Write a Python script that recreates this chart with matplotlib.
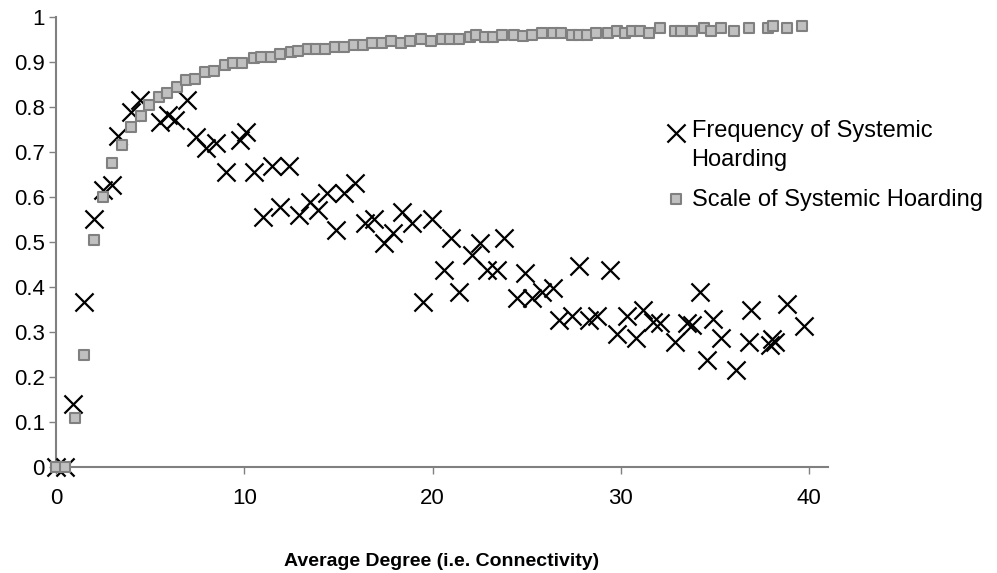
import matplotlib
matplotlib.use("Agg")
import matplotlib.pyplot as plt
from matplotlib.ticker import FuncFormatter

plt.rcParams['font.family'] = ['Liberation Sans', 'DejaVu Sans']

# Frequency of Systemic Hoarding (crosses)
freq_x = [0, 0.5, 0.9, 1.5, 2.0, 2.5, 2.95, 3.3, 4.0, 4.45, 5.5, 5.95, 6.3, 6.97,
          7.46, 7.96, 8.5, 9.05, 9.76, 10.1, 10.5, 11.0, 11.45, 11.9, 12.4, 12.9,
          13.5, 13.9, 14.4, 14.85, 15.3, 15.9, 16.4, 16.9, 17.4, 17.9, 18.35, 18.9,
          19.5, 19.95, 20.6, 21.0, 21.4, 22.1, 22.5, 22.9, 23.4, 23.8, 24.5, 24.9,
          25.3, 25.8, 26.4, 26.7, 27.4, 27.8, 28.3, 28.75, 29.4, 29.8, 30.3, 30.8,
          31.2, 31.7, 32.1, 32.9, 33.5, 33.8, 34.2, 34.6, 34.9, 35.3, 36.1, 36.8,
          36.9, 37.9, 38.05, 38.2, 38.8, 39.7]
freq_y = [0, 0, 0.14, 0.367, 0.551, 0.615, 0.627, 0.735, 0.79, 0.816, 0.767, 0.782,
          0.771, 0.816, 0.734, 0.708, 0.72, 0.656, 0.727, 0.745, 0.656, 0.556, 0.669,
          0.578, 0.669, 0.56, 0.589, 0.571, 0.609, 0.527, 0.609, 0.631, 0.542, 0.551,
          0.498, 0.52, 0.567, 0.542, 0.367, 0.551, 0.438, 0.509, 0.389, 0.471, 0.498,
          0.438, 0.438, 0.509, 0.376, 0.431, 0.376, 0.389, 0.398, 0.327, 0.336, 0.447,
          0.327, 0.336, 0.438, 0.296, 0.336, 0.287, 0.349, 0.322, 0.32, 0.278, 0.32,
          0.316, 0.389, 0.238, 0.329, 0.287, 0.216, 0.278, 0.349, 0.272, 0.285,
          0.278, 0.362, 0.313]

# Scale of Systemic Hoarding (squares)
scale_x = [0, 0.5, 1.0, 1.5, 2.0, 2.5, 3.0, 3.5, 4.0, 4.5, 4.93, 5.46, 5.9, 6.4,
           6.9, 7.4, 7.9, 8.4, 8.97, 9.4, 9.9, 10.5, 10.9, 11.4, 11.9, 12.5, 12.85,
           13.4, 13.8, 14.3, 14.8, 15.3, 15.85, 16.3, 16.8, 17.3, 17.8, 18.3, 18.8,
           19.4, 19.9, 20.5, 20.95, 21.4, 22.0, 22.3, 22.8, 23.2, 23.7, 24.3, 24.8,
           25.3, 25.8, 26.4, 26.8, 27.4, 27.8, 28.2, 28.7, 29.3, 29.8, 30.2, 30.6,
           31.0, 31.5, 32.1, 32.9, 33.2, 33.8, 34.4, 34.8, 35.3, 36.0, 36.8, 37.8,
           38.1, 38.8, 39.6]
scale_y = [0, 0, 0.11, 0.25, 0.505, 0.6, 0.675, 0.716, 0.756, 0.78, 0.804, 0.822,
           0.832, 0.844, 0.86, 0.862, 0.877, 0.88, 0.893, 0.898, 0.898, 0.909, 0.911,
           0.911, 0.918, 0.922, 0.925, 0.928, 0.928, 0.928, 0.934, 0.934, 0.938,
           0.938, 0.942, 0.942, 0.947, 0.942, 0.947, 0.951, 0.947, 0.951, 0.951,
           0.951, 0.956, 0.96, 0.956, 0.956, 0.96, 0.96, 0.958, 0.96, 0.964, 0.964,
           0.964, 0.96, 0.96, 0.96, 0.964, 0.964, 0.969, 0.964, 0.969, 0.969, 0.964,
           0.975, 0.969, 0.969, 0.969, 0.975, 0.969, 0.975, 0.969, 0.975, 0.975,
           0.98, 0.975, 0.98]

fig = plt.figure(figsize=(9.97, 5.73), dpi=100)
ax = fig.add_axes([56/997, 1-467/573, (828-56)/997, (467-17)/573])

ax.scatter(freq_x, freq_y, marker='x', s=170, c='black', linewidths=1.6,
           clip_on=False, zorder=3, label='Frequency of Systemic\nHoarding')
ax.scatter(scale_x, scale_y, marker='s', s=62, c='#c0c0c0', edgecolors='#808080',
           linewidths=1.5, clip_on=False, zorder=4, label='Scale of Systemic Hoarding')

ax.set_xlim(0, 41)
ax.set_ylim(0, 1)
ax.set_xticks([0, 10, 20, 30, 40])
ax.set_yticks([i/10 for i in range(11)])
ax.yaxis.set_major_formatter(FuncFormatter(lambda v, p: '%g' % v))

for s in ['top', 'right']:
    ax.spines[s].set_visible(False)
for s in ['left', 'bottom']:
    ax.spines[s].set_color('#808080')
    ax.spines[s].set_linewidth(1.5)
ax.tick_params(axis='both', colors='#808080', labelcolor='black', labelsize=16,
               length=5, width=1)
ax.tick_params(axis='x', pad=10)
ax.tick_params(axis='y', pad=3)

ax.set_xlabel('Average Degree (i.e. Connectivity)', fontsize=14, fontweight='bold')
ax.xaxis.set_label_coords(0.5, -0.19)

leg = fig.legend(loc='upper left', bbox_to_anchor=(668/997, 1-120/573), frameon=False,
                 fontsize=17, handlelength=0.7, handletextpad=0.3, labelspacing=0.75,
                 borderaxespad=0, borderpad=0, scatterpoints=1)
for t in leg.get_texts():
    t.set_linespacing(1.4)
# cross handle sits next to the first line of its label, as in Excel
h = leg.legend_handles[0]
offs = h.get_offsets()
offs[:, 1] += 10.5
h.set_offsets(offs)

fig.savefig('out.png', dpi=100)
